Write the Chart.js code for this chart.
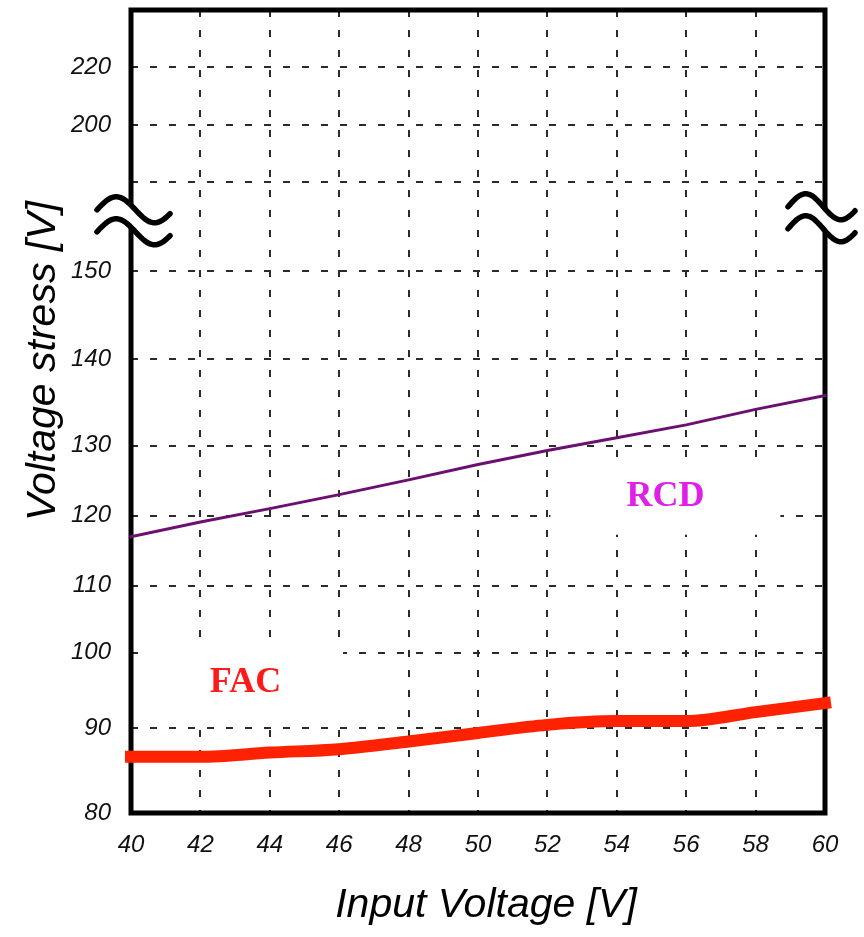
<!DOCTYPE html>
<html>
<head>
<meta charset="utf-8">
<title>Voltage stress vs input voltage</title>
<script src="https://cdn.jsdelivr.net/npm/chart.js@4/dist/chart.umd.min.js"></script>
<style>
  html, body { margin: 0; padding: 0; background: #fff; }
  #wrap { width: 864px; height: 937px; position: relative; }
</style>
</head>
<body>
<div id="wrap"><canvas id="grafico"></canvas></div>
<script>
// --- dados ---
const inputVoltage = [40, 42, 44, 46, 48, 50, 52, 54, 56, 58, 60];
const rcdStress = [117.0, 119.1, 121.0, 123.0, 125.1, 127.3, 129.3, 130.9, 132.4, 134.2, 135.8];
const facStress = [86.6, 86.6, 87.1, 87.5, 88.4, 89.4, 90.4, 90.9, 90.9, 92.1, 93.3];

const xTicks = [40, 42, 44, 46, 48, 50, 52, 54, 56, 58, 60];
const yTickValues = [80, 90, 100, 110, 120, 130, 140, 150, 180, 200, 220];
const yTickLabels = ['80', '90', '100', '110', '120', '130', '140', '150', '', '200', '220'];
const yTop = 240;

// eixo quebrado: posição de cada marca como fração da altura (de baixo para cima)
const yTickShare = [0, 0.106, 0.1995, 0.283, 0.3703, 0.4576, 0.5648, 0.6746, 0.7855, 0.8566, 0.9289];

function brokenDecimal(v) {
    const vals = yTickValues.concat([yTop]);
    const share = yTickShare.concat([1]);
    if (v <= vals[0]) return share[0];
    for (let i = 1; i < vals.length; i++) {
        if (v <= vals[i]) {
            const t = (v - vals[i - 1]) / (vals[i] - vals[i - 1]);
            return share[i - 1] + t * (share[i] - share[i - 1]);
        }
    }
    return 1;
}

// escala linear com quebra
class BrokenLinearScale extends Chart.LinearScale {
    getPixelForValue(value) {
        if (value === null || isNaN(value)) return NaN;
        return this.getPixelForDecimal(brokenDecimal(value));
    }
}
BrokenLinearScale.id = 'brokenLinear';
BrokenLinearScale.defaults = Chart.LinearScale.defaults;
Chart.register(BrokenLinearScale);

const tickFont = { family: '"Liberation Sans", Arial, sans-serif', size: 24, style: 'italic' };
const gridColor = '#2b2b2b';

// rótulos das curvas (com fundo branco)
const curveLabels = [
    { text: 'FAC', x: 43.3, y: 96, color: '#ff1a1a', boxW: 195, boxH: 77 },
    { text: 'RCD', x: 55.4, y: 122.7, color: '#e020e6', boxW: 230, boxH: 76 }
];

function drawTilde(ctx, x0, x1, ym, a) {
    ctx.beginPath();
    for (let i = 0; i <= 40; i++) {
        const t = i / 40;
        const x = x0 + t * (x1 - x0);
        const y = ym - a * Math.sin(1.9 * Math.PI * t);
        if (i === 0) ctx.moveTo(x, y); else ctx.lineTo(x, y);
    }
    ctx.stroke();
}

function drawBreak(ctx, cx, cy, left, right) {
    const a = 13;
    const up = cy - 12, low = cy + 10;
    // fundo branco entre os dois tils
    ctx.beginPath();
    for (let i = 0; i <= 40; i++) {
        const t = i / 40;
        ctx.lineTo(cx - left + t * (left + right), up - a * Math.sin(1.9 * Math.PI * t));
    }
    for (let i = 40; i >= 0; i--) {
        const t = i / 40;
        ctx.lineTo(cx - left + t * (left + right), low - a * Math.sin(1.9 * Math.PI * t));
    }
    ctx.closePath();
    ctx.fillStyle = '#fff';
    ctx.fill();
    ctx.strokeStyle = '#000';
    ctx.lineWidth = 5.5;
    ctx.lineCap = 'round';
    drawTilde(ctx, cx - left, cx + right, up, a);
    drawTilde(ctx, cx - left, cx + right, low, a);
}

const framePlugin = {
    id: 'frame_labels',
    beforeDatasetsDraw: (chart) => {
        const ctx = chart.ctx;
        const xs = chart.scales.x, ys = chart.scales.y;
        const area = chart.chartArea;
        ctx.save();
        // caixas brancas e textos das curvas
        curveLabels.forEach(l => {
            const px = xs.getPixelForValue(l.x);
            const py = ys.getPixelForValue(l.y);
            ctx.fillStyle = '#fff';
            ctx.fillRect(px - l.boxW / 2, py - l.boxH / 2, l.boxW, l.boxH);
            ctx.fillStyle = l.color;
            ctx.font = 'bold 36px "Liberation Serif", "Times New Roman", serif';
            ctx.textAlign = 'center';
            ctx.textBaseline = 'middle';
            ctx.fillText(l.text, px, py);
        });
        // moldura
        ctx.strokeStyle = '#000';
        ctx.lineWidth = 5;
        ctx.strokeRect(area.left, area.top, area.right - area.left, area.bottom - area.top);
        ctx.restore();
    },
    afterDraw: (chart) => {
        const ctx = chart.ctx;
        const ys = chart.scales.y;
        const area = chart.chartArea;
        ctx.save();
        const by = (ys.getPixelForValue(150) + ys.getPixelForValue(180)) / 2 - 5;
        drawBreak(ctx, area.left, by, 34, 39);
        drawBreak(ctx, area.right, by - 3, 37, 30);

        // títulos dos eixos
        ctx.fillStyle = '#000';
        ctx.font = 'italic 41px "Liberation Sans", Arial, sans-serif';
        ctx.textAlign = 'center';
        ctx.textBaseline = 'alphabetic';
        ctx.fillText('Input Voltage [V]', 486, 917);
        ctx.translate(55, 361);
        ctx.rotate(-Math.PI / 2);
        ctx.fillText('Voltage stress [V]', 0, 0);
        ctx.restore();
    }
};

const ctx = document.getElementById('grafico').getContext('2d');
const grafico = new Chart(ctx, {
    type: 'line',
    data: {
        labels: inputVoltage,
        datasets: [{
            label: 'RCD',
            data: inputVoltage.map((x, i) => ({ x: x, y: rcdStress[i] })),
            borderColor: '#6b0f70',
            borderWidth: 3,
            pointRadius: 0,
            borderCapStyle: 'square',
            tension: 0,
            clip: false
        }, {
            label: 'FAC',
            data: inputVoltage.map((x, i) => ({ x: x, y: facStress[i] })),
            borderColor: '#ff2200',
            borderWidth: 12,
            pointRadius: 0,
            borderCapStyle: 'square',
            borderJoinStyle: 'round',
            cubicInterpolationMode: 'monotone',
            clip: false
        }]
    },
    options: {
        responsive: true,
        maintainAspectRatio: false,
        animation: false,
        layout: { padding: { top: 10, right: 39, bottom: 0, left: 0 } },
        plugins: {
            legend: { display: false },
            tooltip: { enabled: false }
        },
        scales: {
            x: {
                type: 'linear',
                min: 40,
                max: 60,
                afterBuildTicks: (axis) => { axis.ticks = xTicks.map(v => ({ value: v })); },
                afterFit: (scale) => {
                    scale.height = 124;
                    scale.paddingLeft = 0;
                    scale.paddingRight = 0;
                },
                ticks: { color: '#111', font: tickFont, padding: 18, maxRotation: 0 },
                grid: { color: gridColor, lineWidth: 2, drawTicks: false, tickLength: 0 },
                border: { display: false, dash: [7, 13] }
            },
            y: {
                type: 'brokenLinear',
                min: 80,
                max: yTop,
                bounds: 'data',
                afterBuildTicks: (axis) => { axis.ticks = yTickValues.map(v => ({ value: v })); },
                afterFit: (scale) => {
                    scale.width = 131;
                    scale.paddingTop = 0;
                    scale.paddingBottom = 0;
                },
                ticks: {
                    color: '#111',
                    font: tickFont,
                    padding: 20,
                    callback: (value, index) => yTickLabels[index]
                },
                grid: { color: gridColor, lineWidth: 2, drawTicks: false, tickLength: 0 },
                border: { display: false, dash: [7, 12] }
            }
        }
    },
    plugins: [framePlugin]
});
</script>
</body>
</html>
